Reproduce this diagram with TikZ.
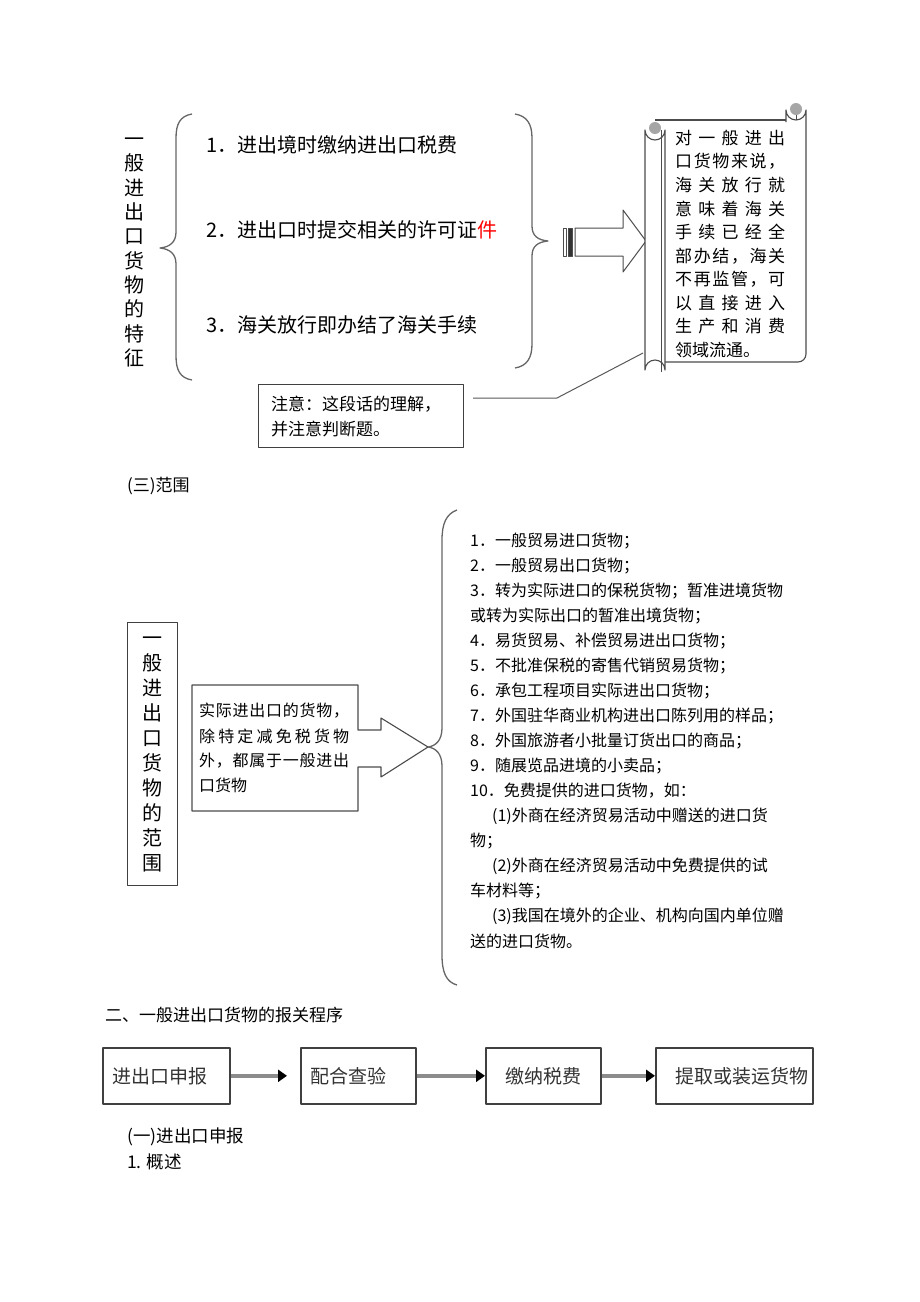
\documentclass[tikz,border=0pt]{standalone}
\usepackage{fontspec}
\setmainfont{Noto Sans CJK SC}
\usetikzlibrary{arrows.meta}
\newcommand\myfs[2]{\fontsize{#1}{#2}\selectfont}
\begin{document}
\begin{tikzpicture}[x=1pt,y=-1pt,line join=round,
  ln/.style={draw=black!70,line width=1.1pt},
  brace/.style={draw=black!60,line width=1.3pt},
  txt/.style={anchor=west,inner sep=0pt},
  procbox/.style={draw=black!75,line width=1.6pt,anchor=north west,minimum height=56pt,inner sep=0pt},
  proctxt/.style={anchor=west,inner sep=0pt,text=black!80,font=\myfs{19}{22}},
  flow/.style={draw=black!45,line width=3.5pt,-{Triangle[length=9pt,width=12pt,color=black]}}]
\useasboundingbox (0,0) rectangle (920,1302);
\fill[white] (0,0) rectangle (920,1302);

% ---------- top section ----------
\node[align=center,inner sep=0pt,font=\myfs{20}{24.3}] (lblA) at (134,252.5)
  {一\\般\\进\\出\\口\\货\\物\\的\\特\\征};

\draw[brace] (192,114) .. controls (180,116) and (176,124) .. (176,138) -- (176,232)
  .. controls (176,242) and (170,247) .. (160,248)
  .. controls (170,249) and (176,254) .. (176,264) -- (176,356)
  .. controls (176,370) and (180,378) .. (192,380);
\draw[brace] (515,114) .. controls (527,116) and (532,124) .. (532,138) -- (532,226)
  .. controls (532,236) and (538,240) .. (548,241)
  .. controls (538,242) and (532,246) .. (532,256) -- (532,344)
  .. controls (532,358) and (527,366) .. (515,368);

\node[txt,font=\myfs{20}{24}] (t1) at (206,145) {1．进出境时缴纳进出口税费};
\node[txt,font=\myfs{20}{24}] (t2) at (206,230) {2．进出口时提交相关的许可证{\color{red}件}};
\node[txt,font=\myfs{20}{24}] (t3) at (206,325) {3．海关放行即办结了海关手续};

% striped block arrow
\draw[ln,line width=1pt] (563,228) rectangle (566,256);
\draw[ln,line width=1pt,fill=black!80] (568,228) rectangle (572,256);
\draw[ln,line width=1pt] (575,228) -- (623,228) -- (623,210) -- (646,241) -- (623,272) -- (623,256) -- (575,256) -- cycle;

% scroll
\draw[ln,fill=white] (786,122) -- (786,110) arc[start angle=180,end angle=0,radius=10] -- (806,354)
  arc[start angle=0,end angle=90,radius=8] -- (665,362);
\draw[ln] (655,120) -- (786,120);
\fill[black!35] (796,109) circle (6);
\draw[ln,line width=0.8pt] (796,115) -- (796,120);
\draw[ln,fill=white] (645,130) -- (645,370) arc[start angle=180,end angle=360,radius=10] -- (665,130)
  arc[start angle=0,end angle=180,radius=10] -- cycle;
\fill[black!35] (655,128) circle (6);
\draw[ln,line width=0.8pt] (661,130) -- (661,372);
\foreach \t [count=\i from 0] in {
  {对\hfil 一\hfil 般\hfil 进\hfil 出},
  {口\hfil 货\hfil 物\hfil 来\hfil 说\hfil ，},
  {海\hfil 关\hfil 放\hfil 行\hfil 就},
  {意\hfil 味\hfil 着\hfil 海\hfil 关},
  {手\hfil 续\hfil 已\hfil 经\hfil 全},
  {部\hfil 办\hfil 结\hfil ，\hfil 海\hfil 关},
  {不\hfil 再\hfil 监\hfil 管\hfil ，\hfil 可},
  {以\hfil 直\hfil 接\hfil 进\hfil 入},
  {生\hfil 产\hfil 和\hfil 消\hfil 费}}
  \node[txt,font=\myfs{17}{20}] (sc\i) at (675,138+23.55*\i) {\makebox[110pt][s]{\t}};
\node[txt,font=\myfs{17}{20}] (sc9) at (675,350) {领域流通。};

% note box + callout line
\node[draw=black!75,line width=1pt,anchor=north west,minimum width=205pt,minimum height=63pt,inner sep=0pt] (note) at (258,384) {};
\node[txt,font=\myfs{17}{20}] (n1) at (271,404) {注意：这段话的理解，};
\node[txt,font=\myfs{17}{20}] (n2) at (271,429) {并注意判断题。};
\coordinate (cs) at (473,398);
\coordinate (ce) at (643,353);
\draw[draw=black!65,line width=1pt] (cs) -- (557,398) -- (ce);

\node[txt,font=\myfs{17}{20}] (sec3) at (127,486) {(三)范围};

% ---------- middle section ----------
\node[draw=black!75,line width=1.1pt,anchor=north west,minimum width=50pt,minimum height=263pt,inner sep=0pt] (boxB) at (127,622) {};
\node[align=center,inner sep=0pt,font=\myfs{20}{25}] (lblB) at (152,754.5)
  {一\\般\\进\\出\\口\\货\\物\\的\\范\\围};

\draw[ln] (192,685) -- (358,685) -- (358,730) -- (381,730) -- (381,718) -- (428,747)
  -- (381,777) -- (381,767) -- (358,767) -- (358,811) -- (192,811) -- cycle;
\node[txt,font=\myfs{16}{20}] (c1) at (199,711) {\makebox[150pt][s]{实\hfil 际\hfil 进\hfil 出\hfil 口\hfil 的\hfil 货\hfil 物\hfil ，}};
\node[txt,font=\myfs{16}{20}] (c2) at (199,736) {\makebox[150pt][s]{除\hfil 特\hfil 定\hfil 减\hfil 免\hfil 税\hfil 货\hfil 物}};
\node[txt,font=\myfs{16}{20}] (c3) at (199,761) {\makebox[150pt][s]{外\hfil ，\hfil 都\hfil 属\hfil 于\hfil 一\hfil 般\hfil 进\hfil 出}};
\node[txt,font=\myfs{16}{20}] (c4) at (199,785) {口货物};

\draw[brace] (457,510) .. controls (446,514) and (442,524) .. (442,540) -- (442,728)
  .. controls (442,740) and (436,746) .. (428,747)
  .. controls (436,748) and (442,754) .. (442,766) -- (442,955)
  .. controls (442,972) and (446,982) .. (457,985);

\foreach \t/\xx [count=\i from 0] in {
  {1．一般贸易进口货物；}/470,
  {2．一般贸易出口货物；}/470,
  {3．转为实际进口的保税货物；暂准进境货物}/470,
  {或转为实际出口的暂准出境货物；}/470,
  {4．易货贸易、补偿贸易进出口货物；}/470,
  {5．不批准保税的寄售代销贸易货物；}/470,
  {6．承包工程项目实际进出口货物；}/470,
  {7．外国驻华商业机构进出口陈列用的样品；}/470,
  {8．外国旅游者小批量订货出口的商品；}/470,
  {9．随展览品进境的小卖品；}/470,
  {10．免费提供的进口货物，如：}/470,
  {(1)外商在经济贸易活动中赠送的进口货}/492,
  {物；}/470,
  {(2)外商在经济贸易活动中免费提供的试}/492,
  {车材料等；}/470,
  {(3)我国在境外的企业、机构向国内单位赠}/492,
  {送的进口货物。}/470}
  \node[txt,font=\myfs{16}{20}] (li\i) at (\xx,541+25*\i) {\t};

% ---------- bottom section ----------
\node[txt,font=\myfs{17}{20}] (h2) at (105,1015) {二、一般进出口货物的报关程序};

\node[procbox,minimum width=127pt] (b1) at (102,1047) {};
\node[procbox,minimum width=115pt] (b2) at (300,1047) {};
\node[procbox,minimum width=115pt] (b3) at (485,1047) {};
\node[procbox,minimum width=157pt] (b4) at (655,1047) {};
\node[proctxt] (bt1) at (112,1076) {进出口申报};
\node[proctxt] (bt2) at (310,1076) {配合查验};
\node[proctxt] (bt3) at (505,1076) {缴纳税费};
\node[proctxt] (bt4) at (675,1076) {提取或装运货物};
\draw[flow] (b1.east) -- ([xshift=-13pt]b2.west);
\draw[flow] (b2.east) -- (b3.west);
\draw[flow] (b3.east) -- (b4.west);

\node[txt,font=\myfs{17.5}{20}] (s1) at (127,1137) {(一)进出口申报};
\node[txt,font=\myfs{17.5}{20}] (s2) at (127,1162) {1. 概述};
\end{tikzpicture}
\end{document}
